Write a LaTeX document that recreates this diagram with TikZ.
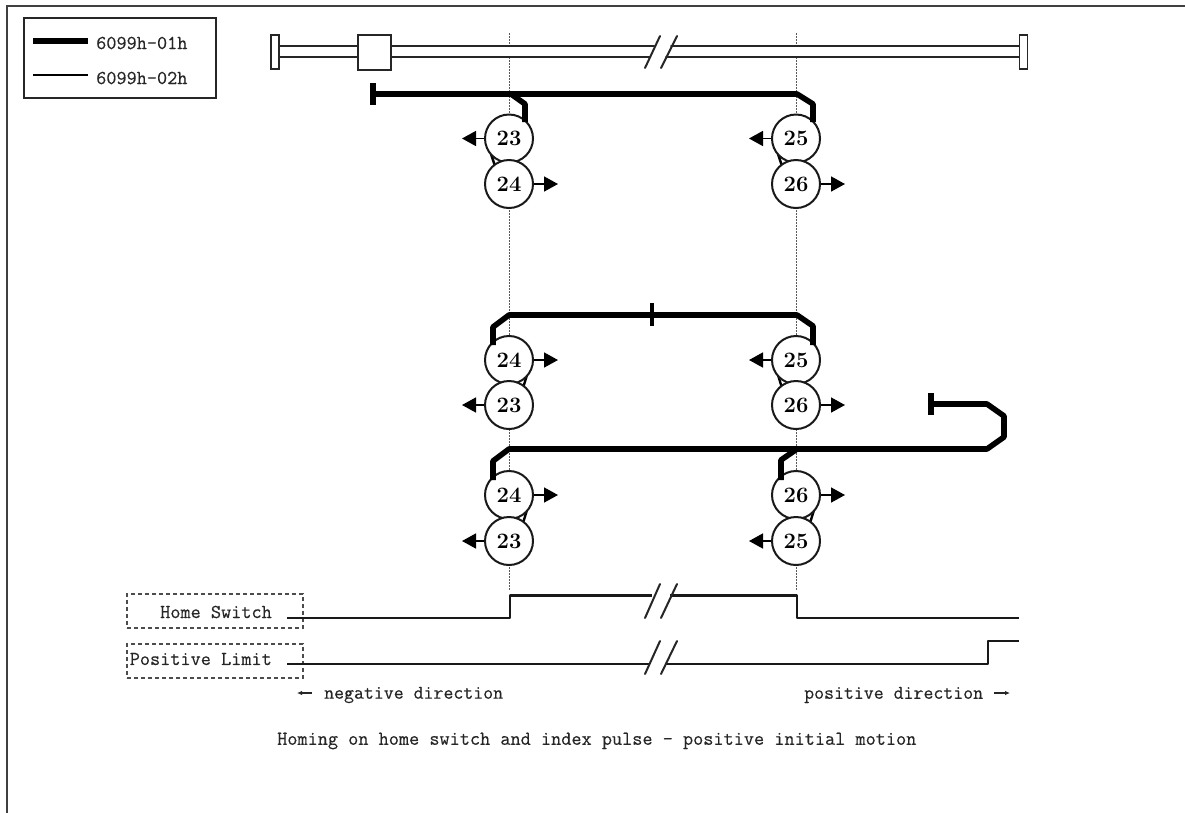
\documentclass[tikz,border=0pt]{standalone}
\usepackage{fontspec}
\setmonofont[FakeBold=0.35]{Latin Modern Mono}
\usetikzlibrary{arrows.meta}
\tikzset{
  x=1pt,y=-1pt,
  rail/.style={draw=black!85,line width=2pt,line cap=round},
  boxline/.style={draw=black!85,line width=1.7pt},
  thickpath/.style={draw=black,line width=5.6pt,line join=round},
  linkpath/.style={draw=black,line width=2.4pt},
  signal/.style={draw=black!90,line width=2.3pt,line join=round},
  guide/.style={draw=black!65,line width=1.3pt,dash pattern=on 1.5pt off 1.5pt},
  numc/.style={circle,draw=black!90,line width=2pt,fill=white,minimum size=48pt,inner sep=0pt,font=\fontsize{22}{22}\selectfont\bfseries\rmfamily},
  arr/.style={draw=black,line width=1.6pt,-{Triangle[length=14pt,width=15pt]}},
  lbl/.style={inner sep=0pt,text=black!85,font=\fontsize{19.7}{20}\selectfont\ttfamily},
  dirlbl/.style={inner sep=0pt,text=black!85,font=\fontsize{19.3}{20}\selectfont\ttfamily},
  dashbox/.style={draw=black!70,line width=1.5pt,dash pattern=on 4pt off 3pt,minimum height=34pt,minimum width=176pt,inner sep=0pt},
}
\newcommand{\arrL}[1]{\coordinate (#1tip) at ([xshift=-22pt]#1.west); \draw[arr] (#1.west) -- (#1tip);}
\newcommand{\arrR}[1]{\coordinate (#1tip) at ([xshift=24pt]#1.east); \draw[arr] (#1.east) -- (#1tip);}
\begin{document}
\begin{tikzpicture}
\useasboundingbox (0,0) rectangle (1185,812);
\fill[white] (0,0) rectangle (1185,812);
% frame
\draw[draw=black!75,line width=2pt] (7,820) -- (7,5.5) -- (1190,5.5);
% legend
\node[boxline,minimum width=192pt,minimum height=80pt,inner sep=0pt] (legend) at (120,58) {};
\coordinate (k1a) at (33,41); \coordinate (k1b) at (88,41);
\coordinate (k2a) at (33,75); \coordinate (k2b) at (88,75);
\draw[draw=black,line width=5.6pt] (k1a) -- (k1b);
\draw[draw=black,line width=2pt] (k2a) -- (k2b);
\node[lbl,anchor=west] (k1t) at (96,43) {6099h-01h};
\node[lbl,anchor=west] (k2t) at (96,78) {6099h-02h};
% guides
\coordinate (g1a) at (509.5,33); \coordinate (g1b) at (509.5,590);
\coordinate (g2a) at (796.5,33); \coordinate (g2b) at (796.5,590);
\draw[guide] (g1a) -- (g1b);
\draw[guide] (g2a) -- (g2b);
% rail
\fill[white] (275,47) rectangle (1024,56);
\node[boxline,fill=white,minimum width=8pt,minimum height=34pt,inner sep=0pt] (endL) at (275,52) {};
\node[boxline,fill=white,minimum width=8pt,minimum height=34pt,inner sep=0pt] (endR) at (1023.5,52) {};
\coordinate (rgap1) at (654,46); \coordinate (rgap2) at (671,46);
\coordinate (rgap3) at (650,57); \coordinate (rgap4) at (666,57);
\draw[rail] (endL.east |- rgap1) -- (rgap1);
\draw[rail] (rgap2) -- (endR.west |- rgap2);
\draw[rail] (endL.east |- rgap3) -- (rgap3);
\draw[rail] (rgap4) -- (endR.west |- rgap4);
\node[boxline,fill=white,minimum width=33pt,minimum height=35pt,inner sep=0pt] (carriage) at (374.5,52.5) {};
\draw[rail] (645,68) -- (660,36);
\draw[rail] (661,68) -- (677,36);
% link stubs
\draw[linkpath] (491,154) -- (495,166);
\draw[linkpath] (778,154) -- (782,166);
\draw[linkpath] (527,375) -- (523,388);
\draw[linkpath] (778,375) -- (782,388);
\draw[linkpath] (527,510) -- (523,523);
\draw[linkpath] (814,510) -- (810,523);
% circles
\node[numc] (c23a) at (509,138.5) {23};
\node[numc] (c24a) at (509,184) {24};
\node[numc] (c25a) at (796,138.5) {25};
\node[numc] (c26a) at (796,184) {26};
\node[numc] (c24b) at (509,360) {24};
\node[numc] (c23b) at (509,405) {23};
\node[numc] (c25b) at (796,360) {25};
\node[numc] (c26b) at (796,405) {26};
\node[numc] (c24c) at (509,495) {24};
\node[numc] (c23c) at (509,541) {23};
\node[numc] (c26c) at (796,495) {26};
\node[numc] (c25c) at (796,541) {25};
% first travel path
\coordinate (t1) at (373,94);
\coordinate (t1a) at (373,83); \coordinate (t1b) at (373,105);
\draw[thickpath] (t1a) -- (t1b);
\coordinate (j1) at (797,94);
\draw[thickpath] (t1) -- (j1) -- (813,104) -- (813,122);
\draw[thickpath] (511,94) -- (525,104) -- (525,122);
% second travel path
\coordinate (t2a) at (652,303); \coordinate (t2b) at (652,326);
\draw[draw=black,line width=4.5pt] (t2a) -- (t2b);
\draw[thickpath] (493,345) -- (493,327) -- (509,315) -- (797,315) -- (813,326) -- (813,345);
% third travel path
\coordinate (t3a) at (931,393); \coordinate (t3b) at (931,415);
\draw[thickpath] (t3a) -- (t3b);
\draw[thickpath] (931,404) -- (987,404) -- (1004,416) -- (1004,437) -- (987,449) -- (509,449) -- (493,461) -- (493,480);
\draw[thickpath] (797,449) -- (781,460) -- (781,480);
% arrows
\arrL{c23a}\arrR{c24a}\arrL{c25a}\arrR{c26a}
\arrR{c24b}\arrL{c23b}\arrL{c25b}\arrR{c26b}
\arrR{c24c}\arrL{c23c}\arrR{c26c}\arrL{c25c}
% signals
\node[dashbox] (home) at (215,611) {};
\node[dashbox] (plim) at (215,661) {};
\node[lbl,anchor=east] (homet) at (272,612) {Home Switch};
\node[lbl,anchor=east] (plimt) at (272,659) {Positive Limit};
\draw[signal] (287,618) -- (510,618) -- (510,595.5) -- (652,595.5);
\draw[signal] (670,595.5) -- (797,595.5) -- (797,618) -- (1019,618);
\draw[signal] (287,664) -- (650,664);
\draw[signal] (666,664) -- (988,664) -- (988,641) -- (1019,641);
\draw[rail] (645,618) -- (660,584);
\draw[rail] (661,618) -- (677,584);
\draw[rail] (645,674) -- (660,641);
\draw[rail] (661,674) -- (677,641);
% direction labels
\coordinate (na) at (312,693); \coordinate (nb) at (297,693);
\draw[draw=black!85,line width=1.2pt,-{Latex[length=5pt,width=4.5pt]}] (na) -- (nb);
\node[dirlbl,anchor=west] (negt) at (324,695) {negative direction};
\node[dirlbl,anchor=west] (post) at (804,695) {positive direction};
\coordinate (pa) at (994,693); \coordinate (pb) at (1010,693);
\draw[draw=black!85,line width=1.2pt,-{Latex[length=5pt,width=4.5pt]}] (pa) -- (pb);
\node[lbl,anchor=west] (cap) at (277,741) {Homing on home switch and index pulse - positive initial motion};
\end{tikzpicture}
\end{document}
